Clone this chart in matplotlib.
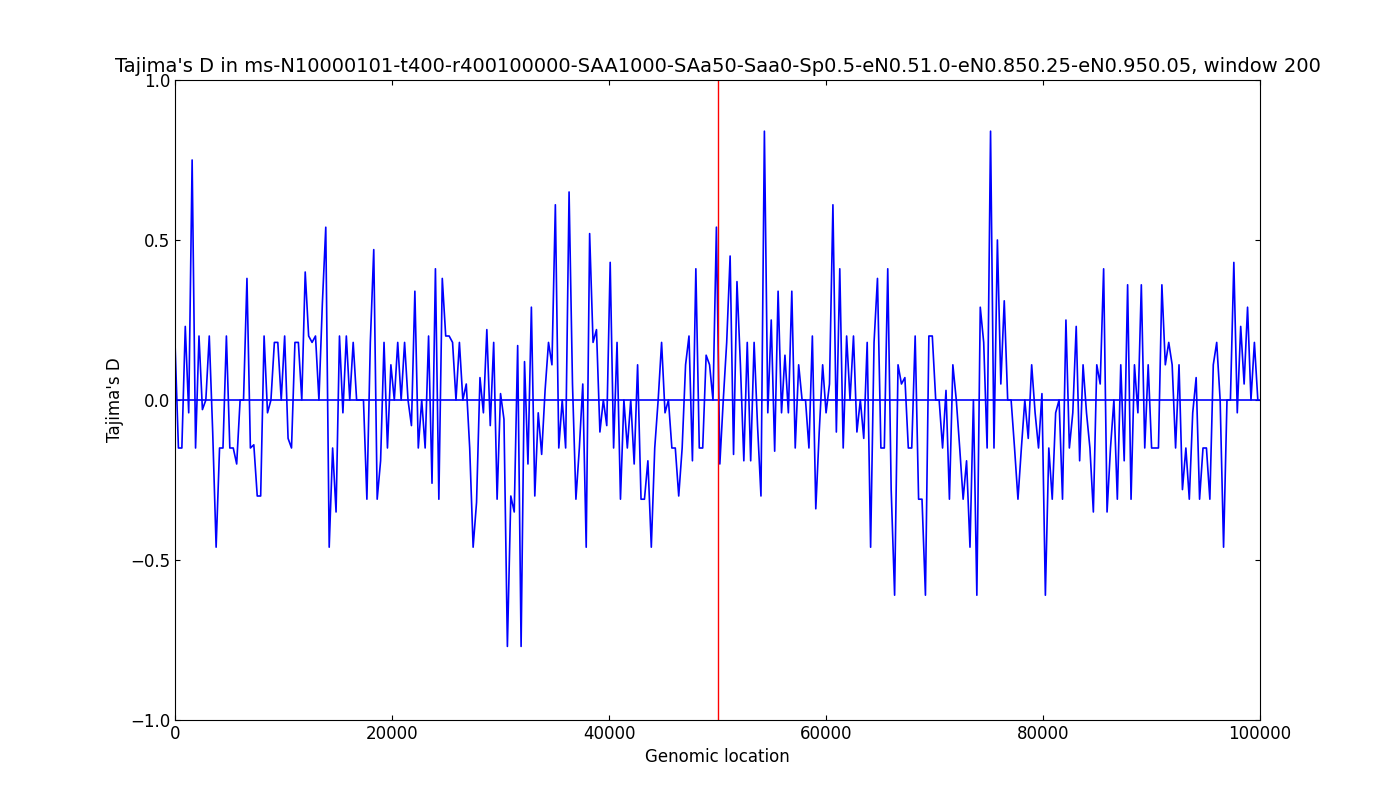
import matplotlib
matplotlib.use('Agg')
import matplotlib.pyplot as plt

# Tajima's D values, left to right
tajd = [0.18, -0.15, -0.15, 0.23, -0.04, 0.75, -0.15, 0.2, -0.03, 0.0, 0.2, -0.1, -0.46, -0.15, -0.15, 0.2, -0.15, -0.15, -0.2, 0.0, 0.0, 0.38, -0.15, -0.14, -0.3, -0.3, 0.2, -0.04, 0.0, 0.18, 0.18, 0.0, 0.2, -0.12, -0.15, 0.18, 0.18, 0.0, 0.4, 0.2, 0.18, 0.2, 0.0, 0.3, 0.54, -0.46, -0.15, -0.35, 0.2, -0.04, 0.2, 0.0, 0.18, 0.0, 0.0, 0.0, -0.31, 0.18, 0.47, -0.31, -0.19, 0.18, -0.15, 0.11, 0.0, 0.18, 0.0, 0.18, 0.0, -0.08, 0.34, -0.15, 0.0, -0.15, 0.2, -0.26, 0.41, -0.31, 0.38, 0.2, 0.2, 0.18, 0.0, 0.18, 0.0, 0.05, -0.15, -0.46, -0.32, 0.07, -0.04, 0.22, -0.08, 0.18, -0.31, 0.02, -0.06, -0.77, -0.3, -0.35, 0.17, -0.77, 0.12, -0.2, 0.29, -0.3, -0.04, -0.17, 0.03, 0.18, 0.11, 0.61, -0.15, 0.0, -0.15, 0.65, 0.05, -0.31, -0.15, 0.05, -0.46, 0.52, 0.18, 0.22, -0.1, 0.0, -0.08, 0.43, -0.15, 0.18, -0.31, 0.0, -0.15, 0.0, -0.2, 0.11, -0.31, -0.31, -0.19, -0.46, -0.15, 0.0, 0.18, -0.04, 0.0, -0.15, -0.15, -0.3, -0.15, 0.11, 0.2, -0.19, 0.41, -0.15, -0.15, 0.14, 0.11, 0.0, 0.54, -0.2, 0.0, 0.18, 0.45, -0.17, 0.37, 0.11, -0.19, 0.18, -0.19, 0.18, -0.08, -0.3, 0.84, -0.04, 0.25, -0.16, 0.34, -0.04, 0.14, -0.04, 0.34, -0.15, 0.11, 0.0, 0.0, -0.15, 0.2, -0.34, -0.1, 0.11, -0.04, 0.05, 0.61, -0.1, 0.41, -0.15, 0.2, 0.0, 0.2, -0.1, 0.0, -0.12, 0.18, -0.46, 0.18, 0.38, -0.15, -0.15, 0.41, -0.28, -0.61, 0.11, 0.05, 0.07, -0.15, -0.15, 0.2, -0.31, -0.31, -0.61, 0.2, 0.2, 0.0, 0.0, -0.15, 0.03, -0.31, 0.11, 0.0, -0.15, -0.31, -0.19, -0.46, 0.0, -0.61, 0.29, 0.18, -0.15, 0.84, -0.15, 0.5, 0.05, 0.31, 0.0, 0.0, -0.15, -0.31, -0.15, 0.0, -0.12, 0.11, -0.04, -0.15, 0.02, -0.61, -0.15, -0.31, -0.04, 0.0, -0.31, 0.25, -0.15, -0.04, 0.23, -0.19, 0.11, -0.04, -0.15, -0.35, 0.11, 0.05, 0.41, -0.35, -0.15, 0.0, -0.31, 0.11, -0.19, 0.36, -0.31, 0.11, -0.04, 0.36, -0.15, 0.11, -0.15, -0.15, -0.15, 0.36, 0.11, 0.18, 0.11, -0.15, 0.11, -0.28, -0.15, -0.31, -0.04, 0.07, -0.31, -0.15, -0.15, -0.31, 0.11, 0.18, 0.0, -0.46, 0.0, 0.0, 0.43, -0.04, 0.23, 0.05, 0.29, 0.0, 0.18, 0.0]
# window positions spread over the genome
loc = [round(i * 99800 / (len(tajd) - 1)) for i in range(len(tajd))]

fig = plt.figure(figsize=(14, 8), dpi=100)
ax = fig.add_axes([0.125, 0.1, 0.775, 0.8])
ax.plot(loc, tajd, color='b', lw=1.2)
ax.axhline(0, color='b', lw=1.2)
ax.axvline(50000, color='r', lw=1)
ax.set_xlim(0, 100000)
ax.set_ylim(-1.0, 1.0)
ax.set_yticks([-1.0, -0.5, 0.0, 0.5, 1.0])
ax.tick_params(direction='in', labelsize=12, top=True, right=True)
ax.set_xlabel('Genomic location', fontsize=12)
ax.set_ylabel("Tajima's D", fontsize=12)
ax.set_title("Tajima's D in ms-N10000101-t400-r400100000-SAA1000-SAa50-Saa0-Sp0.5-eN0.51.0-eN0.850.25-eN0.950.05, window 200", fontsize=14)
fig.savefig('out.png')
